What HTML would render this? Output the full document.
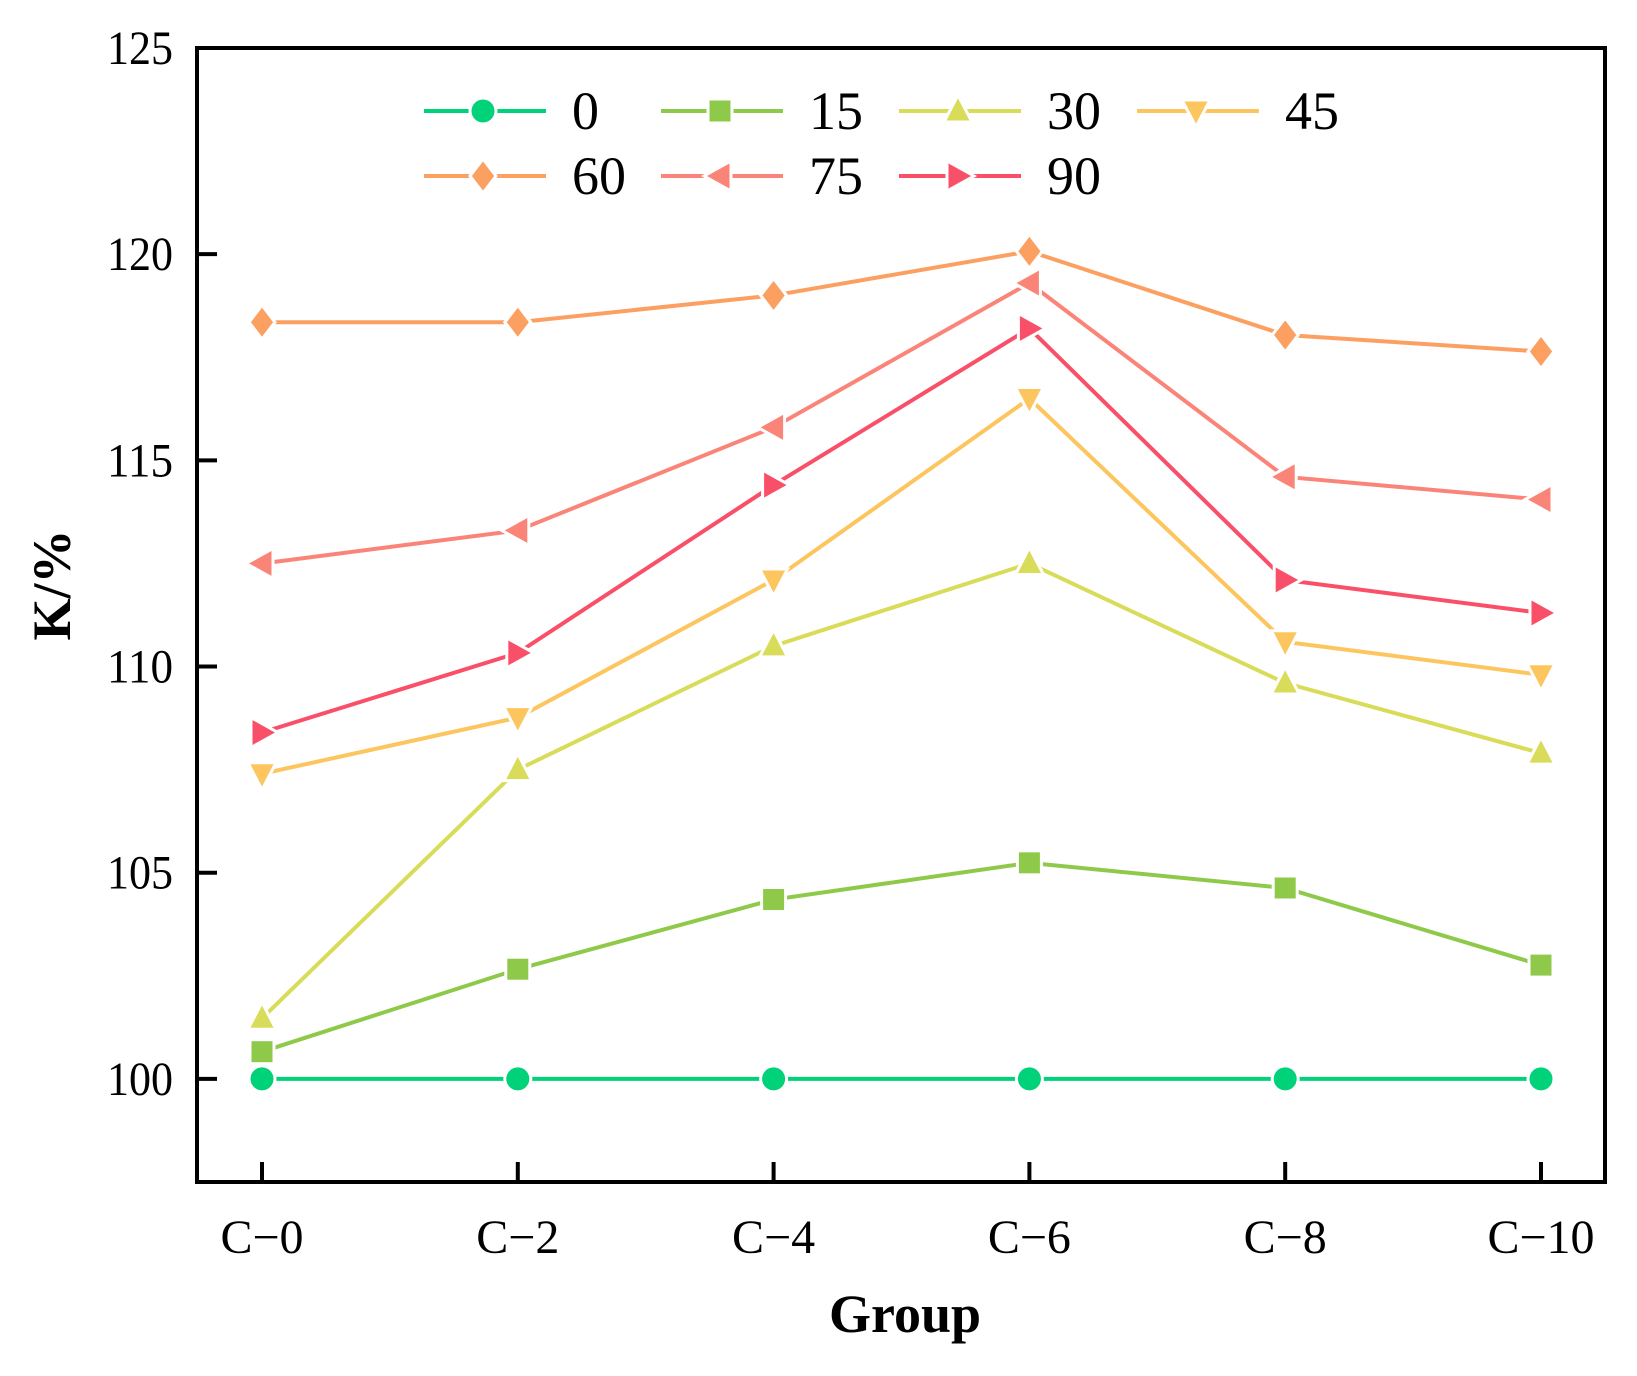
<!DOCTYPE html>
<html><head><meta charset="utf-8"><style>
body{margin:0;background:#fff}
svg text{font-family:"Liberation Serif","Noto Serif CJK SC",serif}
</style></head><body>
<svg id="chart" width="1637" height="1371" xmlns="http://www.w3.org/2000/svg"></svg>
<script>
const categories=["C-0","C-2","C-4","C-6","C-8","C-10"];
const seriesNames=["0","15","30","45","60","75","90"];
const s0=[100,100,100,100,100,100];
const s15=[100.66,102.66,104.35,105.24,104.63,102.76];
const s30=[101.47,107.5,110.5,112.5,109.6,107.9];
const s45=[107.4,108.76,112.1,116.5,110.6,109.8];
const s60=[118.35,118.35,119.0,120.07,118.04,117.64];
const s75=[112.5,113.3,115.8,119.3,114.6,114.05];
const s90=[108.4,110.33,114.4,118.2,112.1,111.3];
const yTicks=[100,105,110,115,120,125];
const seriesData=[s0,s15,s30,s45,s60,s75,s90];
const colors=["#00d27a","#8fc94a","#d8dc58","#fdc55e","#fca062","#fb8478","#f94f68"];
const shapes=["circle","square","up","down","diamond","left","right"];
const L=197,R=1605,T=48,B=1182,yMin=97.5,yMax=125;
const FF='"Liberation Serif","Noto Serif CJK SC",serif';
const X=i=>262+i*255.8;
const Y=v=>B-(v-yMin)/(yMax-yMin)*(B-T);
const NS="http://www.w3.org/2000/svg",svg=document.getElementById('chart');
function mk(t,a,p){const e=document.createElementNS(NS,t);for(const k in a)e.setAttribute(k,a[k]);(p||svg).appendChild(e);return e;}
function marker(shape,x,y,c,g){const r=13;let e;const st={fill:c,stroke:'#fff','stroke-width':3};
 if(shape==="circle")e=mk('circle',Object.assign({cx:x,cy:y,r:r},st),g);
 else if(shape==="square")e=mk('rect',Object.assign({x:x-12,y:y-12,width:24,height:24},st),g);
 else{let p;
  if(shape==="up")p=[[x,y-16],[x+14,y+11],[x-14,y+11]];
  if(shape==="down")p=[[x,y+16],[x+14,y-11],[x-14,y-11]];
  if(shape==="diamond")p=[[x,y-17],[x+13,y],[x,y+17],[x-13,y]];
  if(shape==="left")p=[[x-16,y],[x+11,y-15],[x+11,y+15]];
  if(shape==="right")p=[[x+16,y],[x-11,y-15],[x-11,y+15]];
  e=mk('polygon',Object.assign({points:p.map(q=>q.join(',')).join(' ')},st),g);}
 return e;}
seriesData.forEach((d,si)=>{
 const g=mk('g',{});
 
 
 const pl=mk('polyline',{points:d.map((v,i)=>X(i)+','+Y(v)).join(' '),fill:'none',stroke:colors[si],'stroke-width':4},g);
 
 
 d.forEach((v,i)=>{const m=marker(shapes[si],X(i),Y(v),colors[si],g);
  
  });
});
const fr=mk('rect',{x:L,y:T,width:R-L,height:B-T,fill:'none',stroke:'#000','stroke-width':4});


yTicks.forEach(v=>{
 const t=mk('line',{x1:L,x2:L+20,y1:Y(v),y2:Y(v),stroke:'#000','stroke-width':4});
 
 
 const tx=mk('text',{x:L-24,y:Y(v)+16,'text-anchor':'end','font-size':48,'font-family':FF,textLength:66,lengthAdjust:'spacingAndGlyphs'});tx.textContent=v;
 
 
});
categories.forEach((c,i)=>{
 const t=mk('line',{x1:X(i),x2:X(i),y1:B,y2:B-20,stroke:'#000','stroke-width':4});
 
 
 const tx=mk('text',{x:X(i),y:1253,'text-anchor':'middle','font-size':48,'font-family':FF});tx.textContent=c.replace('-','\u2212');
 
 
});
const xt=mk('text',{x:905,y:1332,'text-anchor':'middle','font-size':54,'font-weight':'bold','font-family':FF});xt.textContent="Group";


const yt=mk('text',{x:0,y:0,'text-anchor':'middle','font-size':54,'font-weight':'bold','font-family':FF,transform:'translate(70,585) rotate(-90)'});yt.textContent="K/%";


const colX=[424,661,899,1137],rowY=[111,176];
seriesNames.forEach((n,i)=>{
 const x=colX[i%4],y=rowY[Math.floor(i/4)];
 const g=mk('g',{});
 
 
 mk('line',{x1:x,x2:x+122,y1:y,y2:y,stroke:colors[i],'stroke-width':4},g);
 marker(shapes[i],x+59,y,colors[i],g);
 const tx=mk('text',{x:x+148,y:y+18,'font-size':54,'font-family':FF},g);tx.textContent=n;
});
</script>
</body></html>
